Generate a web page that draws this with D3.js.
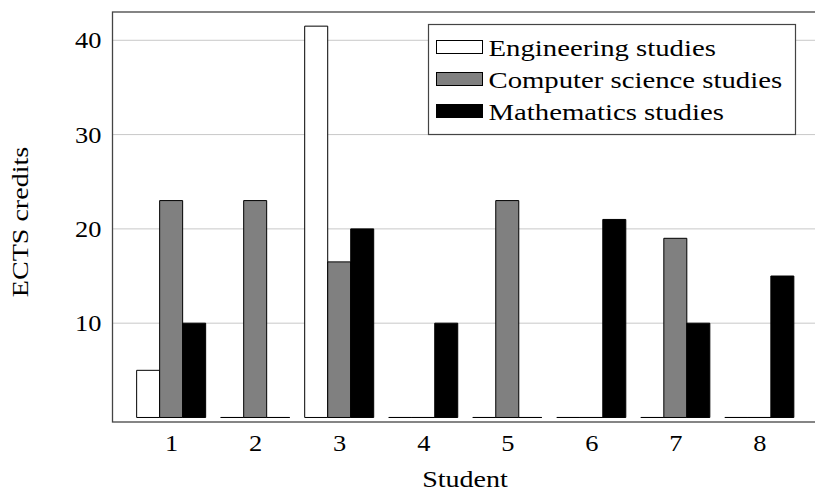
<!DOCTYPE html>
<html>
<head>
<meta charset="utf-8">
<script src="https://cdn.jsdelivr.net/npm/d3@7"></script>
<style>
  body { margin: 0; background: #fff; }
  text { font-family: "Liberation Serif", "Times New Roman", serif; fill: #000; }
</style>
</head>
<body>
<div id="chart"></div>
<script>
// Data
var students = [1, 2, 3, 4, 5, 6, 7, 8];
var engineering = [5, 0, 41.5, 0, 0, 0, 0, 0];
var computerScience = [23, 23, 16.5, 0, 23, 0, 19, 0];
var mathematics = [10, 0, 20, 10, 0, 21, 10, 15];
var yTicks = [10, 20, 30, 40];
var seriesNames = ["Engineering studies", "Computer science studies", "Mathematics studies"];
var seriesColors = ["#ffffff", "#808080", "#000000"];

var svgWidth = 815;
var svgHeight = 491;

var margin = { top: 12, right: -3, bottom: 69, left: 112.5 };
var width = svgWidth - margin.left - margin.right;
var height = svgHeight - margin.top - margin.bottom;

// the reference font is wide, so stretch the serif text a bit
var stretch = 1.22;

var svg = d3.select("#chart")
  .append("svg")
  .attr("width", svgWidth)
  .attr("height", svgHeight);

var chartGroup = svg.append("g")
  .attr("transform", `translate(${margin.left}, ${margin.top})`);

// Scales
var xScale = d3.scaleLinear()
  .domain([0.302, 8.698])
  .range([0, width]);

var yScale = d3.scaleLinear()
  .domain([-0.48, 43.0])
  .range([height, 0]);

var barWidth = xScale(1.2738) - xScale(1);

// Grid lines
chartGroup.append("g")
  .selectAll("line")
  .data(yTicks)
  .enter()
  .append("line")
  .attr("x1", 0)
  .attr("x2", width)
  .attr("y1", d => yScale(d))
  .attr("y2", d => yScale(d))
  .attr("stroke", "#c8c8c8")
  .attr("stroke-width", 1);

// Bars
var allSeries = [engineering, computerScience, mathematics];
allSeries.forEach(function(values, i) {
  chartGroup.append("g")
    .selectAll("path")
    .data(values)
    .enter()
    .append("path")
    .attr("d", function(d, j) {
      var x0 = xScale(students[j]) + (i - 1.5) * barWidth;
      var y0 = yScale(0);
      var y1 = yScale(d);
      return `M${x0},${y0}H${x0 + barWidth}V${y1}H${x0}Z`;
    })
    .attr("fill", seriesColors[i])
    .attr("stroke", "#000")
    .attr("stroke-width", 1);
});

// Axes
var leftAxis = d3.axisLeft(yScale).tickValues(yTicks).tickSize(0).tickPadding(10);
var bottomAxis = d3.axisBottom(xScale).tickValues(students).tickSize(0).tickPadding(12);

var yAxisG = chartGroup.append("g").call(leftAxis);
yAxisG.select(".domain").remove();
yAxisG.selectAll("text")
  .attr("font-family", null)
  .style("font-size", "24px")
  .attr("transform", "scale(1.1,1)");

var xAxisG = chartGroup.append("g")
  .attr("transform", `translate(0, ${height})`)
  .call(bottomAxis);
xAxisG.select(".domain").remove();
xAxisG.selectAll("text")
  .attr("font-family", null)
  .style("font-size", "24px")
  .attr("transform", "scale(1.1,1)");

// Axis box
chartGroup.append("rect")
  .attr("x", 0)
  .attr("y", 0)
  .attr("width", width)
  .attr("height", height)
  .attr("fill", "none")
  .attr("stroke", "#444")
  .attr("stroke-width", 1.3);

// Legend
var legend = chartGroup.append("g")
  .attr("transform", `translate(${428.5 - margin.left}, ${24.5 - margin.top})`);

legend.append("rect")
  .attr("width", 367)
  .attr("height", 110)
  .attr("fill", "#fff")
  .attr("stroke", "#444")
  .attr("stroke-width", 1.2);

var legendRows = legend.selectAll(".legendRow")
  .data(seriesNames)
  .enter()
  .append("g")
  .attr("transform", (d, i) => `translate(8, ${16 + i * 32})`);

legendRows.append("rect")
  .attr("width", 46)
  .attr("height", 13)
  .attr("fill", (d, i) => seriesColors[i])
  .attr("stroke", "#000")
  .attr("stroke-width", 1);

legendRows.append("text")
  .attr("transform", "translate(52, 15) scale(1.25,1)")
  .style("font-size", "23px")
  .text(d => d);

// Axis labels
svg.append("text")
  .attr("transform", `translate(28, 222) rotate(-90) scale(${stretch},1)`)
  .attr("text-anchor", "middle")
  .style("font-size", "23px")
  .text("ECTS credits");

svg.append("text")
  .attr("transform", `translate(465, 487) scale(${stretch},1)`)
  .attr("text-anchor", "middle")
  .style("font-size", "23px")
  .text("Student");
</script>
</body>
</html>
